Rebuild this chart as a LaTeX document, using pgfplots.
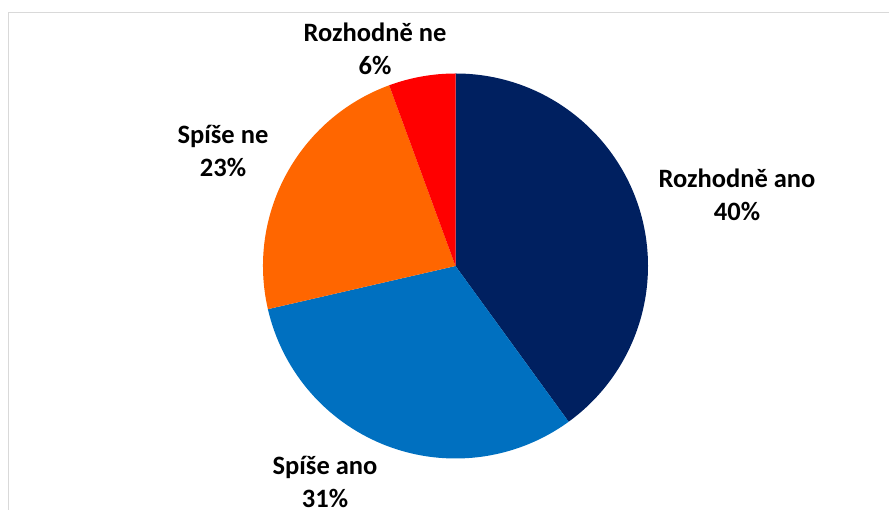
\documentclass[border=0pt]{standalone}
\usepackage{pgfplots}
\usepackage{pgfplotstable}
\pgfplotsset{compat=1.18}
\usepackage{fontspec}
\setmainfont{Carlito}
\definecolor{cA}{HTML}{002060}
\definecolor{cB}{HTML}{0070C0}
\definecolor{cC}{HTML}{FF6600}
\definecolor{cD}{HTML}{FF0000}
\definecolor{frame}{HTML}{D9D9D9}
\pgfplotstableread[col sep=comma]{
label,value,color,lx,ly
Rozhodně ano,40.0,cA,737,315
Spíše ano,31.4,cB,325,28
Spíše ne,23.0,cC,223,359
Rozhodně ne,5.6,cD,375,461
}\piedata
\begin{document}
\begin{tikzpicture}
\begin{axis}[
  width=889pt, height=510pt, scale only axis,
  xmin=0, xmax=889, ymin=0, ymax=510,
  hide axis, clip=false]
\draw[frame, line width=1.5pt] (axis cs:8.25,0) -- (axis cs:8.25,497.25) -- (axis cs:889,497.25);
\def\startang{90}
\pgfplotsforeachungrouped \i in {0,...,3}{%
  \pgfplotstablegetelem{\i}{value}\of\piedata \let\v\pgfplotsretval
  \pgfplotstablegetelem{\i}{color}\of\piedata \let\c\pgfplotsretval
  \pgfplotstablegetelem{\i}{label}\of\piedata \let\lab\pgfplotsretval
  \pgfplotstablegetelem{\i}{lx}\of\piedata \let\lx\pgfplotsretval
  \pgfplotstablegetelem{\i}{ly}\of\piedata \let\ly\pgfplotsretval
  \pgfmathsetmacro\endang{\startang-3.6*\v}%
  \pgfmathtruncatemacro\r{round(\v)}%
  \edef\temp{\noexpand\fill[\c] (axis cs:455.5,244) -- ([shift={(\startang:192.5pt)}]axis cs:455.5,244) arc[start angle=\startang, end angle=\endang, radius=192.5pt] -- cycle;
    \noexpand\node[align=center, font=\noexpand\fontsize{26.5}{33}\noexpand\selectfont\noexpand\bfseries] at (axis cs:\lx,\ly) {\lab\noexpand\\\r\noexpand\%};}%
  \temp
  \let\startang\endang
}
\end{axis}
\pgfresetboundingbox
\useasboundingbox (current axis.south west) rectangle (current axis.north east);
\end{tikzpicture}
\end{document}
